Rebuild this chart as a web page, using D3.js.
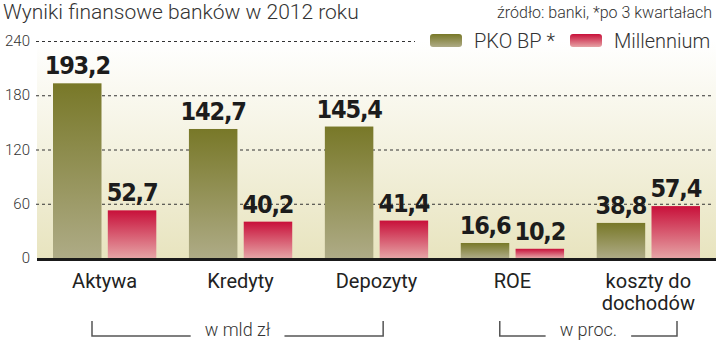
<!DOCTYPE html>
<html>
<head>
<meta charset="utf-8">
<script src="https://cdn.jsdelivr.net/npm/d3@7"></script>
<style>
  body { margin: 0; background: #fff; }
  svg { display: block; }
</style>
</head>
<body>
<svg id="chart" width="720" height="341"></svg>
<script>
// data
var categories = ['Aktywa', 'Kredyty', 'Depozyty', 'ROE', 'koszty do dochodów'];
var series = ['PKO BP *', 'Millennium'];
var pkoValues = [193.2, 142.7, 145.4, 16.6, 38.8];
var millenniumValues = [52.7, 40.2, 41.4, 10.2, 57.4];
var yTicks = [0, 60, 120, 180, 240];
var unitGroups = [
	{ label: 'w mld zł', from: 'Aktywa', to: 'Depozyty' },
	{ label: 'w proc.', from: 'ROE', to: 'koszty do dochodów' }
];

var svg = d3.select('#chart');
var defs = svg.append('defs');

function vgrad(id, top, bottom) {
	var g = defs.append('linearGradient').attr('id', id)
		.attr('x1', 0).attr('y1', 0).attr('x2', 0).attr('y2', 1);
	g.append('stop').attr('offset', '0%').attr('stop-color', top);
	g.append('stop').attr('offset', '100%').attr('stop-color', bottom);
}
vgrad('bg', '#ffffff', '#e8e4bf');
vgrad('gPko', '#787828', '#aeab86');
vgrad('gMil', '#c8103a', '#e6a3a5');

var colors = { 'PKO BP *': 'url(#gPko)', 'Millennium': 'url(#gMil)' };

var x = d3.scaleBand().domain(categories).range([53, 700]).paddingInner(0.24).paddingOuter(0);
var xs = d3.scaleBand().domain(series).range([0, x.bandwidth()]).paddingInner(0.115);
var y = d3.scaleLinear().domain([0, 240]).range([258, 41]);

// background
svg.append('rect')
	.attr('x', 37).attr('y', y(240))
	.attr('width', 716 - 37).attr('height', y(0) - y(240))
	.attr('fill', 'url(#bg)');

// title + source
svg.append('text').attr('x', 3).attr('y', 19)
	.style('font-family', 'Roboto').style('font-weight', 300)
	.style('font-size', '21px').attr('fill', '#333')
	.text('Wyniki finansowe banków w 2012 roku');

svg.append('text').attr('x', 712).attr('y', 18).attr('text-anchor', 'end')
	.style('font-family', 'Roboto').style('font-weight', 300)
	.style('font-size', '16px').attr('fill', '#333')
	.text('źródło: banki, *po 3 kwartałach');

// grid + y labels (top line stops before the legend)
svg.selectAll('.grid').data(yTicks.filter(function(d) { return d > 0; }))
	.enter().append('line')
	.attr('class', 'grid')
	.attr('x1', 36)
	.attr('x2', function(d) { return d == 240 ? 415 : 712; })
	.attr('y1', function(d) { return y(d) + 0.5; })
	.attr('y2', function(d) { return y(d) + 0.5; })
	.attr('stroke', '#333').attr('stroke-width', 1)
	.attr('stroke-dasharray', '3,3');

svg.selectAll('.ytick').data(yTicks)
	.enter().append('text')
	.attr('class', 'ytick')
	.attr('x', 30).attr('y', function(d) { return y(d) + 5; })
	.attr('text-anchor', 'end')
	.style('font-family', 'Roboto').style('font-weight', 300)
	.style('font-size', '15px').attr('fill', '#333')
	.text(function(d) { return d; });

// bars
var rows = categories.map(function(c, i) {
	return { cat: c, vals: [
		{ s: 'PKO BP *', v: pkoValues[i] },
		{ s: 'Millennium', v: millenniumValues[i] }
	] };
});

var grp = svg.selectAll('.grp').data(rows).enter().append('g')
	.attr('class', 'grp')
	.attr('transform', function(d) { return 'translate(' + x(d.cat) + ',0)'; });

grp.selectAll('rect').data(function(d) { return d.vals; })
	.enter().append('rect')
	.attr('x', function(d) { return xs(d.s); })
	.attr('width', xs.bandwidth())
	.attr('y', function(d) { return y(d.v); })
	.attr('height', function(d) { return y(0) - y(d.v); })
	.attr('fill', function(d) { return colors[d.s]; });

var fmt = d3.format('.1f');
grp.selectAll('.val').data(function(d) { return d.vals; })
	.enter().append('text')
	.attr('class', 'val')
	.attr('x', function(d) { return xs(d.s) + xs.bandwidth() / 2; })
	.attr('y', function(d) { return y(d.v) - 9; })
	.attr('text-anchor', 'middle')
	.style('font-family', '"DejaVu Sans Condensed", "DejaVu Sans"')
	.style('font-stretch', 'condensed')
	.style('font-weight', 'bold')
	.style('font-size', '25px').style('letter-spacing', '-1.2px')
	.attr('fill', '#1c1c1c')
	.text(function(d) { return fmt(d.v).replace('.', ','); });

// axis line
svg.append('line')
	.attr('x1', 37).attr('x2', 716)
	.attr('y1', y(0) + 1.5).attr('y2', y(0) + 1.5)
	.attr('stroke', '#1a1a1a').attr('stroke-width', 3);

// category labels
var cl = svg.selectAll('.cat').data(categories).enter().append('text')
	.attr('class', 'cat')
	.attr('x', function(d) { return x(d) + x.bandwidth() / 2; })
	.attr('y', 288)
	.attr('text-anchor', 'middle')
	.style('font-family', 'Roboto').style('font-size', '20px')
	.attr('fill', '#222');

cl.each(function(d) {
	var t = d3.select(this);
	var parts = d == 'koszty do dochodów' ? ['koszty do', 'dochodów'] : [d];
	parts.forEach(function(p, i) {
		t.append('tspan')
			.attr('x', x(d) + x.bandwidth() / 2)
			.attr('dy', i == 0 ? 0 : 22)
			.text(p);
	});
});

// unit brackets
var bracketInset = [[39, 45], [39, 23]];
unitGroups.forEach(function(u, i) {
	var x1 = x(u.from) + bracketInset[i][0];
	var x2 = x(u.to) + x.bandwidth() - bracketInset[i][1];
	var yb = 336, yt = 321;
	var g = svg.append('g');
	var t = g.append('text')
		.attr('x', (x1 + x2) / 2).attr('y', yb)
		.attr('text-anchor', 'middle')
		.style('font-family', 'Roboto').style('font-weight', 300)
		.style('font-size', '18px').attr('fill', '#333')
		.text(u.label);
	var w = t.node().getComputedTextLength();
	var gap = 14;
	var mid = (x1 + x2) / 2;
	g.append('path')
		.attr('d', 'M' + x1 + ',' + yt + 'V' + yb + 'H' + (mid - w / 2 - gap))
		.attr('fill', 'none').attr('stroke', '#555').attr('stroke-width', 1.5);
	g.append('path')
		.attr('d', 'M' + (mid + w / 2 + gap) + ',' + yb + 'H' + x2 + 'V' + yt)
		.attr('fill', 'none').attr('stroke', '#555').attr('stroke-width', 1.5);
});

// legend
var legend = svg.append('g');
var legendX = [430, 570];
series.forEach(function(s, i) {
	legend.append('rect')
		.attr('x', legendX[i]).attr('y', 34)
		.attr('width', 32).attr('height', 13).attr('rx', 3)
		.attr('fill', colors[s]);
	legend.append('text')
		.attr('x', legendX[i] + 44).attr('y', 48)
		.style('font-family', 'Roboto').style('font-weight', 300)
		.style('font-size', '20px').attr('fill', '#333')
		.text(s);
});
</script>
</body>
</html>
